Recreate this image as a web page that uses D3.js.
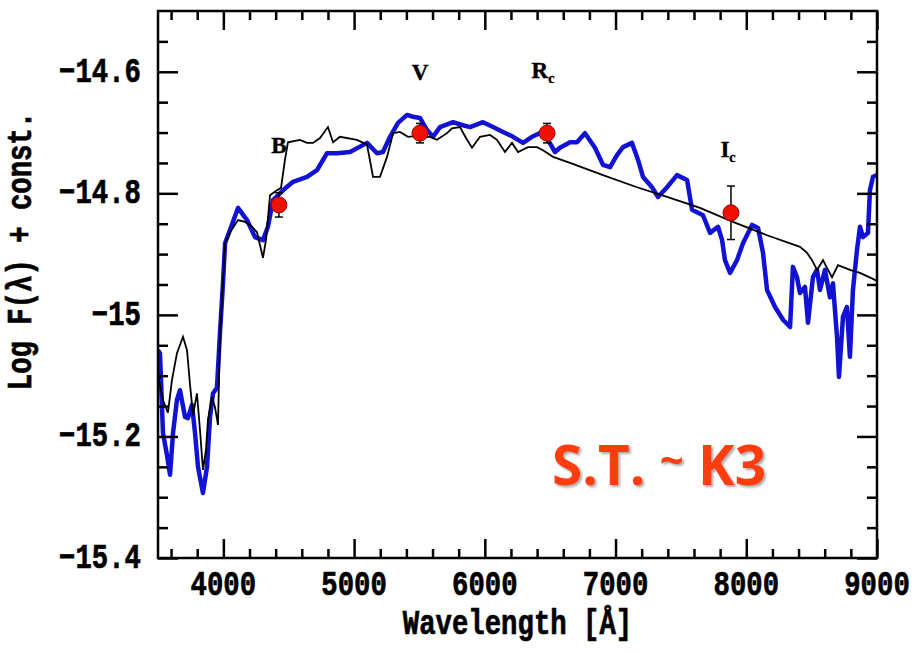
<!DOCTYPE html>
<html>
<head>
<meta charset="utf-8">
<script src="https://cdn.jsdelivr.net/npm/d3@7"></script>
<style>
  body { margin: 0; background: #fff; }
  svg { display: block; }
</style>
</head>
<body>
<div id="chart"></div>
<script>
// observed spectrum (blue)
var obsWave = [3500, 3515, 3538, 3569, 3592, 3615, 3645, 3668, 3707, 3729, 3760, 3783, 3806, 3844, 3875, 3898, 3921, 3951, 3974, 3997,
  4013, 4051, 4112, 4181, 4242, 4303, 4341, 4380, 4456, 4533, 4640, 4716, 4793, 4869, 4969, 5099, 5175, 5221, 5275, 5336,
  5405, 5451, 5504, 5558, 5604, 5657, 5757, 5833, 5887, 5986, 6063, 6139, 6216, 6292, 6361, 6422, 6483, 6537, 6575, 6652,
  6705, 6766, 6843, 6904, 6958, 7011, 7057, 7126, 7172, 7210, 7279, 7325, 7394, 7470, 7547, 7585, 7669, 7723, 7784, 7815,
  7837, 7876, 7929, 7975, 8044, 8090, 8128, 8159, 8220, 8281, 8335, 8357, 8388, 8411, 8449, 8472, 8510, 8541, 8564, 8602,
  8640, 8663, 8694, 8709, 8740, 8770, 8793, 8816, 8847, 8870, 8893, 8931, 8946, 8969, 9000];
var obsFlux = [-15.058, -15.063, -15.194, -15.231, -15.263, -15.194, -15.140, -15.124, -15.168, -15.170, -15.148, -15.194, -15.250, -15.293, -15.250, -15.168, -15.129, -15.120, -15.030, -14.948,
  -14.882, -14.860, -14.824, -14.844, -14.872, -14.877, -14.855, -14.811, -14.795, -14.781, -14.773, -14.762, -14.734, -14.734, -14.732, -14.717, -14.734, -14.732, -14.707, -14.684,
  -14.671, -14.674, -14.676, -14.696, -14.707, -14.691, -14.683, -14.688, -14.691, -14.683, -14.691, -14.699, -14.707, -14.717, -14.707, -14.701, -14.712, -14.732, -14.725, -14.716,
  -14.716, -14.701, -14.725, -14.753, -14.757, -14.737, -14.724, -14.717, -14.745, -14.773, -14.790, -14.806, -14.790, -14.770, -14.778, -14.827, -14.836, -14.865, -14.855, -14.877,
  -14.910, -14.931, -14.910, -14.882, -14.852, -14.857, -14.898, -14.959, -14.987, -15.008, -15.020, -14.921, -14.938, -14.964, -14.954, -15.013, -14.938, -14.926, -14.959, -14.926,
  -14.971, -14.948, -15.036, -15.102, -15.003, -14.987, -15.069, -14.959, -14.893, -14.855, -14.872, -14.865, -14.795, -14.773, -14.770];

// K3 template spectrum (black)
var tplWave = [3500, 3538, 3576, 3607, 3645, 3691, 3722, 3745, 3768, 3798, 3821, 3844, 3867, 3882, 3913, 3936, 3959, 3974, 3997, 4013,
  4051, 4112, 4166, 4219, 4257, 4280, 4303, 4326, 4357, 4410, 4441, 4471, 4494, 4586, 4640, 4686, 4739, 4800, 4839, 4892,
  5022, 5099, 5145, 5198, 5252, 5298, 5351, 5412, 5466, 5542, 5581, 5634, 5711, 5749, 5810, 5856, 5902, 5963, 6040, 6093,
  6154, 6208, 6254, 6330, 6399, 6445, 6522, 6652, 6904, 7164, 7394, 7646, 7898, 8159, 8411, 8465, 8503, 8541, 8587, 8618,
  8656, 8702, 8793, 8870, 9000];
var tplFlux = [-15.099, -15.140, -15.161, -15.107, -15.063, -15.036, -15.058, -15.115, -15.165, -15.129, -15.189, -15.255, -15.222, -15.173, -15.135, -15.152, -15.181, -15.033, -14.948, -14.882,
  -14.864, -14.844, -14.847, -14.855, -14.864, -14.885, -14.906, -14.877, -14.803, -14.795, -14.791, -14.745, -14.716, -14.712, -14.717, -14.717, -14.709, -14.691, -14.716, -14.707,
  -14.712, -14.720, -14.773, -14.773, -14.740, -14.701, -14.699, -14.707, -14.706, -14.707, -14.707, -14.712, -14.701, -14.693, -14.691, -14.709, -14.725, -14.707, -14.704, -14.712,
  -14.732, -14.717, -14.732, -14.724, -14.724, -14.729, -14.740, -14.750, -14.770, -14.790, -14.806, -14.824, -14.847, -14.869, -14.888, -14.898, -14.910, -14.926, -14.910, -14.923,
  -14.938, -14.918, -14.926, -14.931, -14.944];

// photometry
var bandNames = ["B", "V", "R", "I"];
var bandSubs = ["", "", "c", "c"];
var bandWave = [4425, 5504, 6476, 7883];
var bandFlux = [-14.819, -14.701, -14.701, -14.832];
var bandErr = [0.02, 0.016, 0.016, 0.044];
var labelWave = [4425, 5504, 6445, 7860];
var labelFlux = [-14.734, -14.614, -14.610, -14.740];

var xTicks = [4000, 5000, 6000, 7000, 8000, 9000];
var yTicks = [-15.4, -15.2, -15, -14.8, -14.6];
var yTickLabels = ["\u221215.4", "\u221215.2", "\u221215", "\u221214.8", "\u221214.6"];

var W = 917, H = 653;
var pLeft = 158, pRight = 877, pTop = 11, pBottom = 558;

var svg = d3.select("#chart").append("svg")
  .attr("width", W)
  .attr("height", H)
  .style("background", "#fff");

var x = d3.scaleLinear().domain([3500, 9000]).range([pLeft, pRight]);
var y = d3.scaleLinear().domain([-15.4, -14.5]).range([pBottom, pTop]);

var plotFont = "'Liberation Mono', 'Courier New', monospace";

// text helper: narrow the mono font a bit, like the old plotting package
function label(g, px, py, str, anchor, size, rot) {
  var t = g.append("text")
    .attr("transform", "translate(" + px + "," + py + ")" + (rot ? " rotate(" + rot + ")" : "") + " scale(0.78,1)")
    .attr("text-anchor", anchor)
    .style("font-family", plotFont)
    .style("font-weight", "bold")
    .style("font-size", size + "px")
    .style("fill", "#000")
    .style("stroke", "#000")
    .style("stroke-width", 0.7)
    .text(str);
  return t;
}

var defs = svg.append("defs");
defs.append("clipPath").attr("id", "clip")
  .append("rect").attr("x", pLeft).attr("y", pTop).attr("width", pRight - pLeft).attr("height", pBottom - pTop);
defs.append("filter").attr("id", "shadow")
  .attr("x", "-10%").attr("y", "-10%").attr("width", "130%").attr("height", "140%")
  .append("feDropShadow")
  .attr("dx", 2).attr("dy", 2).attr("stdDeviation", 0.8)
  .attr("flood-color", "#888").attr("flood-opacity", 0.7);

/****** SPECTRA ******/
var line = d3.line()
  .x(function(d) { return x(d[0]); })
  .y(function(d) { return y(d[1]); });

var plot = svg.append("g").attr("clip-path", "url(#clip)");

plot.append("path")
  .datum(obsWave.map(function(w, i) { return [w, obsFlux[i]]; }))
  .attr("d", line)
  .attr("fill", "none")
  .attr("stroke", "#1212d4")
  .attr("stroke-width", 4.5)
  .attr("stroke-linejoin", "round");

plot.append("path")
  .datum(tplWave.map(function(w, i) { return [w, tplFlux[i]]; }))
  .attr("d", line)
  .attr("fill", "none")
  .attr("stroke", "#000")
  .attr("stroke-width", 1.8)
  .attr("stroke-linejoin", "miter");

/****** PHOTOMETRY ******/
var bands = bandNames.map(function(n, i) {
  return {name: n, sub: bandSubs[i], w: bandWave[i], f: bandFlux[i], e: bandErr[i], lw: labelWave[i], lf: labelFlux[i]};
});

var pts = svg.append("g").selectAll("g").data(bands).enter().append("g");

pts.append("line")
  .attr("x1", function(d) { return x(d.w); })
  .attr("x2", function(d) { return x(d.w); })
  .attr("y1", function(d) { return y(d.f - d.e); })
  .attr("y2", function(d) { return y(d.f + d.e); })
  .attr("stroke", "#000").attr("stroke-width", 1.5);

[1, -1].forEach(function(s) {
  pts.append("line")
    .attr("x1", function(d) { return x(d.w) - 4; })
    .attr("x2", function(d) { return x(d.w) + 4; })
    .attr("y1", function(d) { return y(d.f + s * d.e); })
    .attr("y2", function(d) { return y(d.f + s * d.e); })
    .attr("stroke", "#000").attr("stroke-width", 1.5);
});

pts.append("circle")
  .attr("cx", function(d) { return x(d.w); })
  .attr("cy", function(d) { return y(d.f); })
  .attr("r", 8)
  .attr("fill", "#ee1100")
  .attr("stroke", "#900")
  .attr("stroke-width", 1);

// band names
var names = svg.append("g").selectAll("text").data(bands).enter().append("text")
  .attr("x", function(d) { return x(d.lw); })
  .attr("y", function(d) { return y(d.lf); })
  .attr("text-anchor", "middle")
  .style("font-family", "'Liberation Serif', serif")
  .style("font-weight", "bold")
  .style("font-size", "23px")
  .style("fill", "#000")
  .style("stroke", "#000")
  .style("stroke-width", 0.4);
names.append("tspan").text(function(d) { return d.name; });
names.append("tspan")
  .attr("dy", 5)
  .style("font-size", "14px")
  .text(function(d) { return d.sub; });

/****** AXES ******/
var minorX = d3.range(3600, 9000, 200).filter(function(v) { return v % 1000 !== 0; });
var minorY = d3.range(1, 18).filter(function(i) { return i % 4 !== 0; })
  .map(function(i) { return -15.4 + i * 0.05; });

function ticks(axis, vals, size, tx) {
  var g = svg.append("g")
    .attr("transform", tx)
    .call(axis.tickValues(vals).tickSize(size).tickSizeOuter(0).tickFormat(""));
  g.select(".domain").remove();
  g.selectAll(".tick line").attr("stroke", "#000").attr("stroke-width", 2.5);
}

ticks(d3.axisBottom(x), xTicks, -19, "translate(0," + pBottom + ")");
ticks(d3.axisBottom(x), minorX, -9, "translate(0," + pBottom + ")");
ticks(d3.axisTop(x), xTicks, -19, "translate(0," + pTop + ")");
ticks(d3.axisTop(x), minorX, -9, "translate(0," + pTop + ")");
ticks(d3.axisLeft(y), yTicks, -20, "translate(" + pLeft + ",0)");
ticks(d3.axisLeft(y), minorY, -10, "translate(" + pLeft + ",0)");
ticks(d3.axisRight(y), yTicks, -20, "translate(" + pRight + ",0)");
ticks(d3.axisRight(y), minorY, -10, "translate(" + pRight + ",0)");

svg.append("rect")
  .attr("x", pLeft).attr("y", pTop)
  .attr("width", pRight - pLeft).attr("height", pBottom - pTop)
  .attr("fill", "none")
  .attr("stroke", "#000")
  .attr("stroke-width", 2.5);

var labels = svg.append("g");
xTicks.forEach(function(t) {
  label(labels, x(t), 595, String(t), "middle", 35);
});
yTicks.forEach(function(t, i) {
  label(labels, 141, y(t) + 10, yTickLabels[i], "end", 35);
});
label(labels, (pLeft + pRight) / 2, 634, "Wavelength [\u00c5]", "middle", 35);
label(labels, 31, 251, "Log F(\u03bb) + const.", "middle", 35, -90);

/****** SPECTRAL TYPE ******/
var st = svg.append("text")
  .attr("x", 552).attr("y", 485)
  .attr("filter", "url(#shadow)")
  .style("font-family", "'Open Sans', sans-serif")
  .style("font-weight", "bold")
  .style("font-size", "55px")
  .style("fill", "#ff3d08");
st.append("tspan").text("S.T. ");
st.append("tspan").attr("dy", -10).style("font-size", "42px").text("~");
st.append("tspan").attr("dy", 10).text(" K3");
</script>
</body>
</html>
